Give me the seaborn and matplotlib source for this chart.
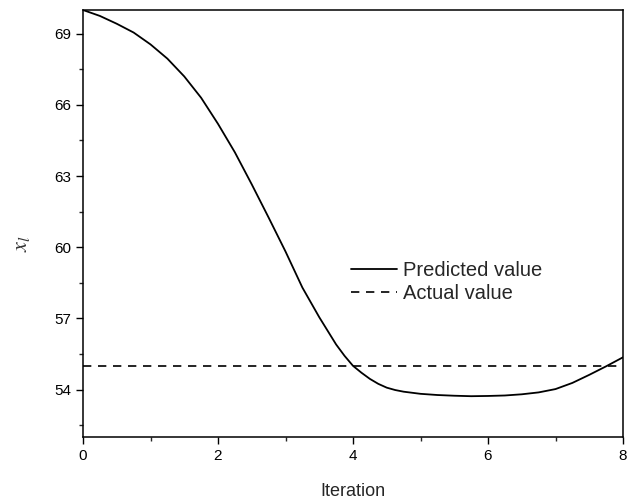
import matplotlib
matplotlib.use("Agg")
import matplotlib.pyplot as plt
from matplotlib.ticker import MultipleLocator
import seaborn as sns
import pandas as pd

iteration = [0.0, 0.25, 0.5, 0.75, 1.0, 1.25, 1.5, 1.75, 2.0, 2.25, 2.5, 2.75,
             3.0, 3.25, 3.5, 3.75, 3.875, 4.0, 4.125, 4.25, 4.375, 4.5, 4.625,
             4.75, 5.0, 5.25, 5.5, 5.75, 6.0, 6.25, 6.5, 6.75, 7.0, 7.25,
             7.5, 7.75, 8.0]
predicted = [70.0, 69.75, 69.42, 69.05, 68.55, 67.95, 67.2, 66.3, 65.2, 64.0,
             62.65, 61.25, 59.82, 58.3, 57.05, 55.9, 55.42, 55.0, 54.71, 54.45,
             54.24, 54.08, 53.98, 53.91, 53.82, 53.77, 53.74, 53.72, 53.73,
             53.75, 53.80, 53.88, 54.02, 54.28, 54.62, 54.98, 55.36]
actual_value = 55.0
actual_x = [0, 8]
actual = [actual_value, actual_value]

sns.set_style("ticks")
plt.rcParams['font.family'] = ['Liberation Sans', 'DejaVu Sans']
plt.rcParams['mathtext.fontset'] = 'stix'

fig = plt.figure(figsize=(6.35, 5.01), dpi=100)
ax = fig.add_axes([83/635, 1 - 437/501, 540/635, 427/501])

df_pred = pd.DataFrame({"Iteration": iteration, "value": predicted})
df_act = pd.DataFrame({"Iteration": actual_x, "value": actual})

sns.lineplot(data=df_pred, x="Iteration", y="value", ax=ax, color="black",
             lw=1.3, label="Predicted value")
sns.lineplot(data=df_act, x="Iteration", y="value", ax=ax, color="black",
             lw=1.2, linestyle=(0, (5, 4)), label="Actual value")

ax.set_xlim(0, 8)
ax.set_ylim(52, 70)
ax.xaxis.set_major_locator(MultipleLocator(2))
ax.xaxis.set_minor_locator(MultipleLocator(1))
ax.yaxis.set_minor_locator(MultipleLocator(1.5))
ax.set_yticks([54, 57, 60, 63, 66, 69])
ax.tick_params(axis='both', which='major', direction='out', length=5, width=1,
               labelsize=11, colors='black', top=False, right=False)
ax.tick_params(axis='both', which='minor', direction='out', length=3, width=1,
               top=False, right=False)
for s in ax.spines.values():
    s.set_visible(True)
    s.set_linewidth(1.1)
    s.set_color('black')

ax.set_xlabel("Iteration", fontsize=13)
ax.xaxis.set_label_coords(0.5, -0.108)
ax.set_ylabel(r"$x_l$", fontsize=16, color='#333333')
ax.yaxis.set_label_coords(-0.094, 0.452)

leg = ax.legend(loc="upper left", bbox_to_anchor=(0.4626, 0.455), frameon=False,
                fontsize=14.5, handlelength=2.3, handletextpad=0.3,
                labelspacing=0.2)

fig.savefig("out.png", dpi=100)
